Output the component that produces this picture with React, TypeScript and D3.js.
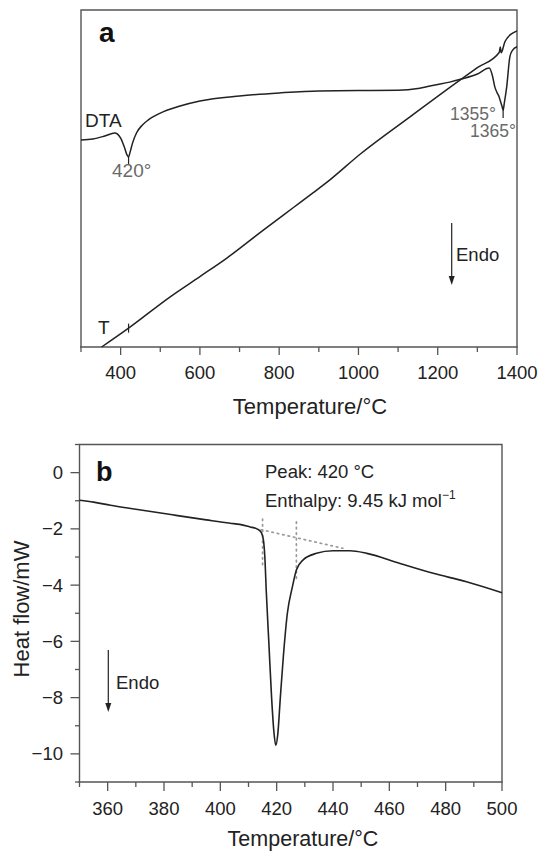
import React from "react";
import * as d3 from "d3";

// ---------- Panel a data (DTA + temperature trace, arbitrary units 0..100) ----------
const dtaTemps = [300, 330, 360, 385, 400, 410, 416, 420, 424, 430, 440, 455, 470, 500, 550, 600, 700, 800, 900, 1000, 1100, 1150, 1190, 1230, 1260, 1300, 1330, 1338, 1344, 1350, 1355, 1358, 1362, 1365, 1368, 1374, 1382, 1389, 1400];
const dtaValues = [61.4, 61.7, 62.6, 63.5, 62.0, 59.1, 57.0, 56.4, 57.9, 60.5, 63.5, 65.9, 67.4, 69.4, 71.5, 73.0, 74.5, 75.4, 76.0, 76.1, 76.2, 76.7, 77.7, 78.6, 79.5, 81.0, 82.8, 80.5, 77.2, 75.4, 74.2, 73.0, 71.5, 70.3, 72.4, 77.2, 86.1, 88.1, 89.1];

const tTemps = [352, 420, 525, 600, 668, 760, 836, 886, 928, 1004, 1130, 1256, 1300, 1355, 1358, 1360, 1370, 1400];
const tValues = [0, 5.6, 14.9, 20.9, 26.4, 34.7, 41.4, 45.8, 49.6, 57.2, 68.3, 79.2, 82.9, 87.4, 89.0, 87.3, 90.7, 93.8];

const axisATicks = [300, 400, 500, 600, 700, 800, 900, 1000, 1100, 1200, 1300, 1400];
const axisALabels = [400, 600, 800, 1000, 1200, 1400];

// ---------- Panel b data (DSC heat flow, mW) ----------
const dscTemps = [350, 355, 361, 370, 383, 395, 403.5, 406.9, 410.5, 413, 414.5, 415.3, 415.8, 416.3, 417.2, 418.2, 419.0, 419.7, 420.4, 421.3, 422.4, 423.8, 425.5, 427, 429.4, 434.1, 440, 446, 452, 463.8, 475.6, 487.4, 500];
const dscValues = [-0.98, -1.05, -1.16, -1.3, -1.5, -1.68, -1.8, -1.84, -1.93, -2.0, -2.12, -2.4, -3.0, -4.2, -6.0, -8.0, -9.2, -9.7, -9.3, -8.0, -6.5, -5.0, -4.1, -3.46, -3.1, -2.87, -2.78, -2.78, -2.87, -3.23, -3.58, -3.88, -4.27];

const baselineTemps = [414.5, 443.5];
const baselineValues = [-2.03, -2.69];
const onsetTemps = [415, 415];
const onsetValues = [-1.65, -3.3];
const endsetTemps = [427, 427];
const endsetValues = [-1.75, -3.9];

const axisBTicks = [350, 360, 370, 380, 390, 400, 410, 420, 430, 440, 450, 460, 470, 480, 490, 500];
const axisBLabels = [360, 380, 400, 420, 440, 460, 480, 500];
const axisBYTicks = [1, 0, -1, -2, -3, -4, -5, -6, -7, -8, -9, -10, -11];
const axisBYLabels = [0, -2, -4, -6, -8, -10];

const FONT = "'Liberation Sans', Arial, Helvetica, sans-serif";
const AXIS = "#555";
const INK = "#222";
const GREY = "#6a6a6a";

const fmt = (v: number) => (v < 0 ? "\u2212" + Math.abs(v) : String(v));

export default function App() {
  const xA = d3.scaleLinear().domain([300, 1400]).range([81, 517]);
  const yA = d3.scaleLinear().domain([0, 100]).range([347, 10]);
  const xB = d3.scaleLinear().domain([350, 500]).range([79.5, 502]);
  const yB = d3.scaleLinear().domain([-11, 1]).range([782, 444.5]);

  const lineA = d3
    .line<[number, number]>()
    .x((d) => xA(d[0]))
    .y((d) => yA(d[1]))
    .curve(d3.curveMonotoneX);
  const lineB = d3
    .line<[number, number]>()
    .x((d) => xB(d[0]))
    .y((d) => yB(d[1]))
    .curve(d3.curveMonotoneX);
  const lineBLin = d3
    .line<[number, number]>()
    .x((d) => xB(d[0]))
    .y((d) => yB(d[1]));

  const zip = (a: number[], b: number[]) => a.map((v, i) => [v, b[i]] as [number, number]);

  const dtaPts = zip(dtaTemps, dtaValues);
  const tPts = zip(tTemps, tValues);
  const dscPts = zip(dscTemps, dscValues);

  const aBottom = yA(0);
  const aTop = yA(100);
  const aLeft = xA(300);
  const aRight = xA(1400);
  const bBottom = yB(-11);
  const bTop = yB(1);
  const bLeft = xB(350);
  const bRight = xB(500);

  const dta420 = yA(dtaValues[dtaTemps.indexOf(420)]);
  const dta1365 = yA(dtaValues[dtaTemps.indexOf(1365)]);
  const t420 = yA(tValues[tTemps.indexOf(420)]);

  return (
    <svg
      width={538}
      height={852}
      viewBox="0 0 538 852"
      style={{ position: "absolute", left: 0, top: 0, background: "#fff" }}
      fontFamily={FONT}
    >
      <rect x={0} y={0} width={538} height={852} fill="#fff" />

      {/* ================= Panel a ================= */}
      <g>
        <path
          d={`M${aLeft},${aBottom}V${aTop}H${aRight}V${aBottom}`}
          fill="none"
          stroke={AXIS}
          strokeWidth={1.4}
        />
        <line x1={aLeft - 1} x2={aRight + 0.7} y1={aBottom} y2={aBottom} stroke={AXIS} strokeWidth={1.4} />
        {axisATicks.map((t) => {
          const major = axisALabels.includes(t);
          return (
            <line
              key={t}
              x1={xA(t)}
              x2={xA(t)}
              y1={aBottom}
              y2={aBottom + (major ? 8 : 5)}
              stroke={AXIS}
              strokeWidth={1.3}
            />
          );
        })}
        {axisALabels.map((t) => (
          <text key={t} x={xA(t)} y={379} textAnchor="middle" fontSize={18.5} fill={INK}>
            {t}
          </text>
        ))}
        <text x={310} y={414} textAnchor="middle" fontSize={22} fill={INK}>
          Temperature/°C
        </text>

        <path d={lineA(dtaPts) || ""} fill="none" stroke={INK} strokeWidth={1.5} />
        <path d={lineA(tPts) || ""} fill="none" stroke={INK} strokeWidth={1.5} />

        <line x1={xA(420)} x2={xA(420)} y1={dta420} y2={dta420 + 8} stroke={INK} strokeWidth={1.2} />
        <line x1={xA(1365)} x2={xA(1365)} y1={dta1365} y2={dta1365 + 8} stroke={INK} strokeWidth={1.2} />
        <line x1={xA(420)} x2={xA(420)} y1={t420 - 4.5} y2={t420 + 4.5} stroke={INK} strokeWidth={1.2} />

        <text x={99} y={41.5} fontSize={28} fontWeight="bold" fill="#111">
          a
        </text>
        <text x={85} y={127} fontSize={19} fill={INK}>
          DTA
        </text>
        <text x={112} y={177} fontSize={19} fill={GREY}>
          420°
        </text>
        <text x={496} y={120} fontSize={17.5} fill={GREY} textAnchor="end">
          1355°
        </text>
        <text x={516} y={137} fontSize={17.5} fill={GREY} textAnchor="end">
          1365°
        </text>
        <text x={98} y={334} fontSize={19} fill={INK}>
          T
        </text>

        <line x1={451.7} x2={451.7} y1={223} y2={278} stroke={INK} strokeWidth={1.2} />
        <path d="M448.7,276 L454.7,276 L451.7,285 Z" fill={INK} />
        <text x={456} y={261} fontSize={18.5} fill={INK}>
          Endo
        </text>
      </g>

      {/* ================= Panel b ================= */}
      <g>
        <path
          d={`M${bLeft},${bBottom}V${bTop}H${bRight}V${bBottom}`}
          fill="none"
          stroke={AXIS}
          strokeWidth={1.4}
        />
        <line x1={bLeft - 1} x2={bRight + 0.7} y1={bBottom} y2={bBottom} stroke={AXIS} strokeWidth={1.4} />
        {axisBTicks.map((t) => {
          const major = axisBLabels.includes(t);
          return (
            <line
              key={t}
              x1={xB(t)}
              x2={xB(t)}
              y1={bBottom}
              y2={bBottom + (major ? 9 : 5)}
              stroke={AXIS}
              strokeWidth={1.3}
            />
          );
        })}
        {axisBLabels.map((t) => (
          <text key={t} x={xB(t)} y={815} textAnchor="middle" fontSize={18.5} fill={INK}>
            {t}
          </text>
        ))}
        {axisBYTicks.map((v) => {
          const major = axisBYLabels.includes(v);
          return (
            <line
              key={v}
              x1={bLeft}
              x2={bLeft - (major ? 9 : 4.5)}
              y1={yB(v)}
              y2={yB(v)}
              stroke={AXIS}
              strokeWidth={1.3}
            />
          );
        })}
        {axisBYLabels.map((v) => (
          <text key={v} x={63} y={yB(v) + 6.5} textAnchor="end" fontSize={18.5} fill={INK}>
            {fmt(v)}
          </text>
        ))}
        <text
          transform={`translate(29,609) rotate(-90)`}
          textAnchor="middle"
          fontSize={22}
          fill={INK}
        >
          Heat flow/mW
        </text>
        <text x={303} y={846} textAnchor="middle" fontSize={21.5} fill={INK}>
          Temperature/°C
        </text>

        {[
          zip(baselineTemps, baselineValues),
          zip(onsetTemps, onsetValues),
          zip(endsetTemps, endsetValues),
        ].map((pts, i) => (
          <path
            key={i}
            d={lineBLin(pts) || ""}
            fill="none"
            stroke="#999"
            strokeWidth={1.7}
            strokeDasharray="1.5 4"
            strokeLinecap="round"
          />
        ))}

        <path d={lineB(dscPts) || ""} fill="none" stroke={INK} strokeWidth={1.6} />

        <text x={96} y={481} fontSize={27} fontWeight="bold" fill="#111">
          b
        </text>
        <text x={265} y={478} fontSize={18.5} fill={INK}>
          Peak: 420 °C
        </text>
        <text x={265} y={507} fontSize={18.5} fill={INK}>
          Enthalpy: 9.45 kJ mol
          <tspan fontSize={12} dy={-8}>
            −1
          </tspan>
        </text>

        <line x1={108.3} x2={108.3} y1={650} y2={705} stroke={INK} strokeWidth={1.2} />
        <path d="M105.3,703 L111.3,703 L108.3,712 Z" fill={INK} />
        <text x={116} y={689} fontSize={18.5} fill={INK}>
          Endo
        </text>
      </g>
    </svg>
  );
}
